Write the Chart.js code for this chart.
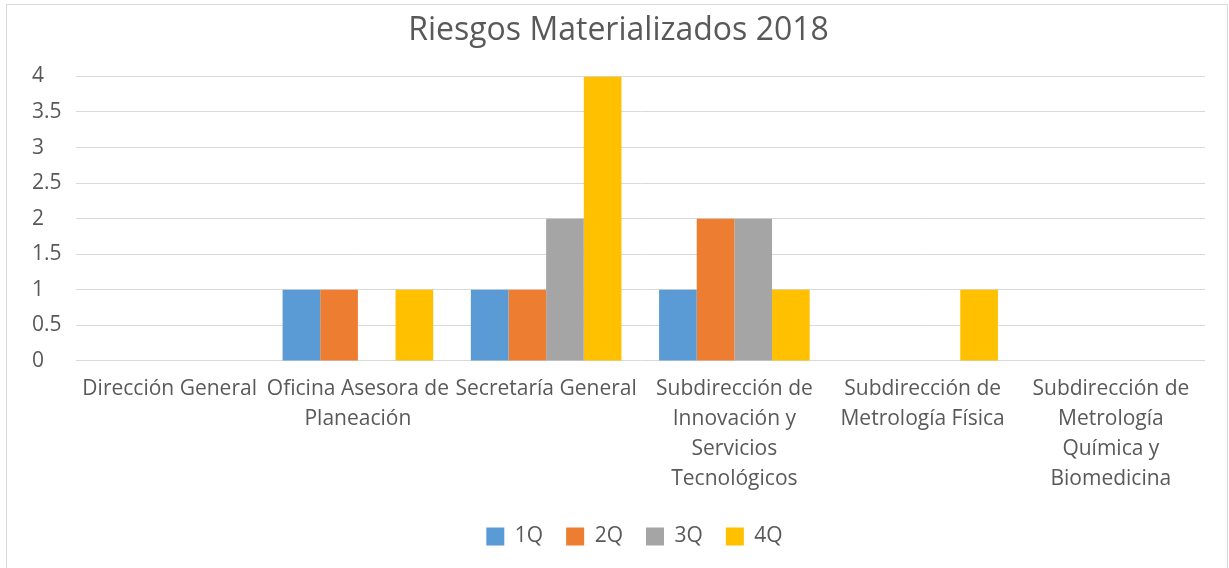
<!DOCTYPE html>
<html>
<head>
<meta charset="utf-8">
<script src="https://cdn.jsdelivr.net/npm/chart.js@4"></script>
<style>
html,body{margin:0;padding:0;background:#fff;}
#wrap{position:absolute;left:0;top:0;width:1229px;height:568px;}
</style>
</head>
<body>
<div id="wrap"><canvas id="c" width="1229" height="568"></canvas></div>
<script>
const categories = [
  "Dirección General",
  ["Oficina Asesora de","Planeación"],
  "Secretaría General",
  ["Subdirección de","Innovación y","Servicios","Tecnológicos"],
  ["Subdirección de","Metrología Física"],
  ["Subdirección de","Metrología","Química y","Biomedicina"]
];
const seriesNames = ["1Q","2Q","3Q","4Q"];
const q1 = [0,1,1,1,0,0];
const q2 = [0,1,1,2,0,0];
const q3 = [0,0,2,2,0,0];
const q4 = [0,1,4,1,1,0];
const yTicks = [0,0.5,1,1.5,2,2.5,3,3.5,4];
const colors = ["#5B9BD5","#ED7D31","#A5A5A5","#FFC000"];
const titleText = "Riesgos Materializados 2018";

const borderPlugin = {
  id:'frame',
  afterLayout(chart){
    if (chart.legend){ chart.legend.left += 16; chart.legend.right += 16; chart.legend.top += 4; chart.legend.bottom += 4; }
  },
  beforeDraw(chart){
    const ctx = chart.ctx;
    ctx.save();
    ctx.fillStyle='#fff';
    ctx.fillRect(0,0,chart.width,chart.height);
    ctx.strokeStyle='#d9d9d9';
    ctx.lineWidth=1;
    ctx.strokeRect(6.5,4.5,1221,600);
    ctx.restore();
  }
};

const font = "'Open Sans', 'Segoe UI', sans-serif";
new Chart(document.getElementById('c'), {
  type:'bar',
  data:{
    labels:categories,
    datasets:[q1,q2,q3,q4].map((d,i)=>({label:seriesNames[i],data:d,backgroundColor:colors[i],borderWidth:0,categoryPercentage:0.8,barPercentage:1.0}))
  },
  options:{
    responsive:false,
    animation:false,
    devicePixelRatio:1,
    layout:{padding:{left:32,right:24,top:12,bottom:15}},
    plugins:{
      title:{display:true,text:titleText,color:'#595959',font:{family:font,size:32,weight:'normal'},padding:{top:0,bottom:26}},
      legend:{position:'bottom',labels:{color:'#595959',font:{family:font,size:21},boxWidth:18,boxHeight:18,padding:23}},
      tooltip:{enabled:false}
    },
    scales:{
      x:{grid:{display:false},border:{display:false},ticks:{color:'#595959',font:{family:font,size:21,lineHeight:1.43},maxRotation:0,autoSkip:false,padding:5}},
      y:{min:0,max:4,afterBuildTicks(s){s.ticks=yTicks.map(v=>({value:v}));},
         ticks:{color:'#595959',font:{family:font,size:21},crossAlign:'far',padding:7,callback:v=>String(v)},
         grid:{color:'#d9d9d9',drawTicks:false},border:{display:false}}
    }
  },
  plugins:[borderPlugin]
});
</script>
</body>
</html>
